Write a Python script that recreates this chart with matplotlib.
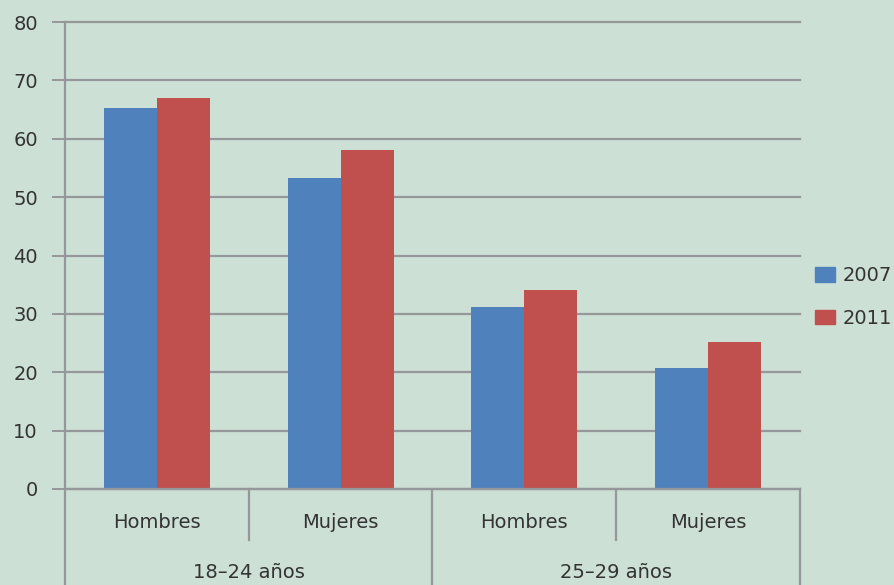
import matplotlib
matplotlib.use("Agg")
import matplotlib.pyplot as plt
from matplotlib.patches import Patch

# Porcentajes por grupo de edad y sexo
grupos = ["18–24 años", "25–29 años"]
sexos = ["Hombres", "Mujeres", "Hombres", "Mujeres"]
anios = ["2007", "2011"]
valores_2007 = [65.2, 53.3, 31.1, 20.8]
valores_2011 = [67.0, 58.0, 34.1, 25.1]

fondo = "#cce0d5"
gris = "#959799"
azul = "#4f81bd"
rojo = "#c0504d"
texto = "#333333"
tam = 14

plt.rcParams["font.family"] = ["DejaVu Sans"]

fig = plt.figure(figsize=(8.95, 5.85), dpi=100, facecolor=fondo)
W, H = 895, 585
x0, x1, y0, y1 = 65, 800, 489, 22
ax = fig.add_axes([x0 / W, (H - y0) / H, (x1 - x0) / W, (y0 - y1) / H])
ax.set_facecolor(fondo)

n = len(sexos)
ancho = 0.288
pos = list(range(n))
ax.bar([p - ancho / 2 for p in pos], valores_2007, width=ancho, color=azul, zorder=3)
ax.bar([p + ancho / 2 for p in pos], valores_2011, width=ancho, color=rojo, zorder=3)

ax.set_xlim(-0.5, n - 0.5)
ax.set_ylim(0, 80)
ax.set_yticks(range(0, 81, 10))
ax.yaxis.grid(True, color=gris, linewidth=1.6, zorder=1)
for linea in ax.get_ygridlines():
    linea.set_clip_on(False)
ax.set_axisbelow(True)
ax.tick_params(axis="y", length=9.5, width=1.4, color=gris, pad=10,
               labelsize=tam, labelcolor=texto)
ax.set_xticks([])
for lado in ["top", "right", "left"]:
    ax.spines[lado].set_visible(False)
ax.spines["bottom"].set_color(gris)
ax.spines["bottom"].set_linewidth(1.6)
ax.spines["bottom"].set_zorder(4)

# Ejes de categorías en dos niveles
tr = ax.get_xaxis_transform()
fondo_ax = -(H - y0) / (y0 - y1)
medio = -51 / (y0 - y1)
ax.plot([-0.5, -0.5], [fondo_ax, 1], transform=tr, color=gris, lw=1.6,
        clip_on=False, zorder=4)
for xs in [1.5, 3.5]:
    ax.plot([xs, xs], [fondo_ax, 0], transform=tr, color=gris, lw=1.6,
            clip_on=False, zorder=4)
for xs in [0.5, 2.5]:
    ax.plot([xs, xs], [0, medio], transform=tr, color=gris, lw=1.6,
            clip_on=False, zorder=4)

for p, s in zip(pos, sexos):
    ax.text(p, -34 / (y0 - y1), s, transform=tr, ha="center", va="center",
            fontsize=tam, color=texto)
for i, g in enumerate(grupos):
    ax.text(2 * i + 0.5, -84 / (y0 - y1), g, transform=tr, ha="center",
            va="center", fontsize=tam, color=texto)

manejadores = [Patch(color=azul), Patch(color=rojo)]
fig.legend(manejadores, anios, loc="center left",
           bbox_to_anchor=(798 / W, (H - 297) / H), frameon=False,
           fontsize=tam, handlelength=0.98, handleheight=0.78,
           handletextpad=0.42, labelspacing=1.2, labelcolor=texto)

fig.savefig("out.png", dpi=100, facecolor=fondo)
